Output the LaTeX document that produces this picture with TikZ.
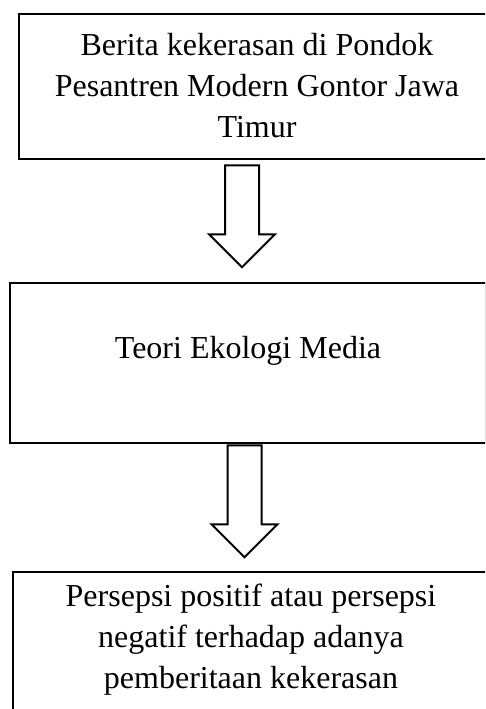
\documentclass[tikz,border=0pt]{standalone}
\usepackage{fontspec}
\setmainfont{Liberation Serif}
\usetikzlibrary{shapes.arrows}

\begin{document}
\begin{tikzpicture}[x=1pt, y=1pt,
		kotak/.style={draw=black, line width=2.6pt, inner sep=0pt, minimum width=\lebar pt, align=center, font=\fontsize{32}{41}\selectfont, anchor=base},
		panah/.style={single arrow, draw=black, line width=2pt, fill=white, shape border rotate=270, inner sep=16pt, single arrow head extend=16pt, single arrow tip angle=90, anchor=tail}]
		\pgfmathsetmacro{\lebar}{476}
		\path[use as bounding box, clip] (0,0) rectangle (485,-709);

		\node[kotak, text height=123pt, text depth=22pt] (berita) at (257,-137) {Berita kekerasan di Pondok\\Pesantren Modern Gontor Jawa\\Timur};
		\node[kotak, text height=75pt, text depth=85pt] (ekologi) at (248,-358) {Teori Ekologi Media};
		\node[kotak, text height=116pt, text depth=52pt] (persepsi) at (251,-688) {Persepsi positif atau persepsi\\negatif terhadap adanya\\pemberitaan kekerasan};

		\node[panah, minimum height=102pt] (panah1) at ([xshift=-15pt, yshift=-4pt]berita.south) {};
		\node[panah, minimum height=112pt] (panah2) at ([xshift=-3.5pt]ekologi.south) {};
	\end{tikzpicture}
\end{document}
